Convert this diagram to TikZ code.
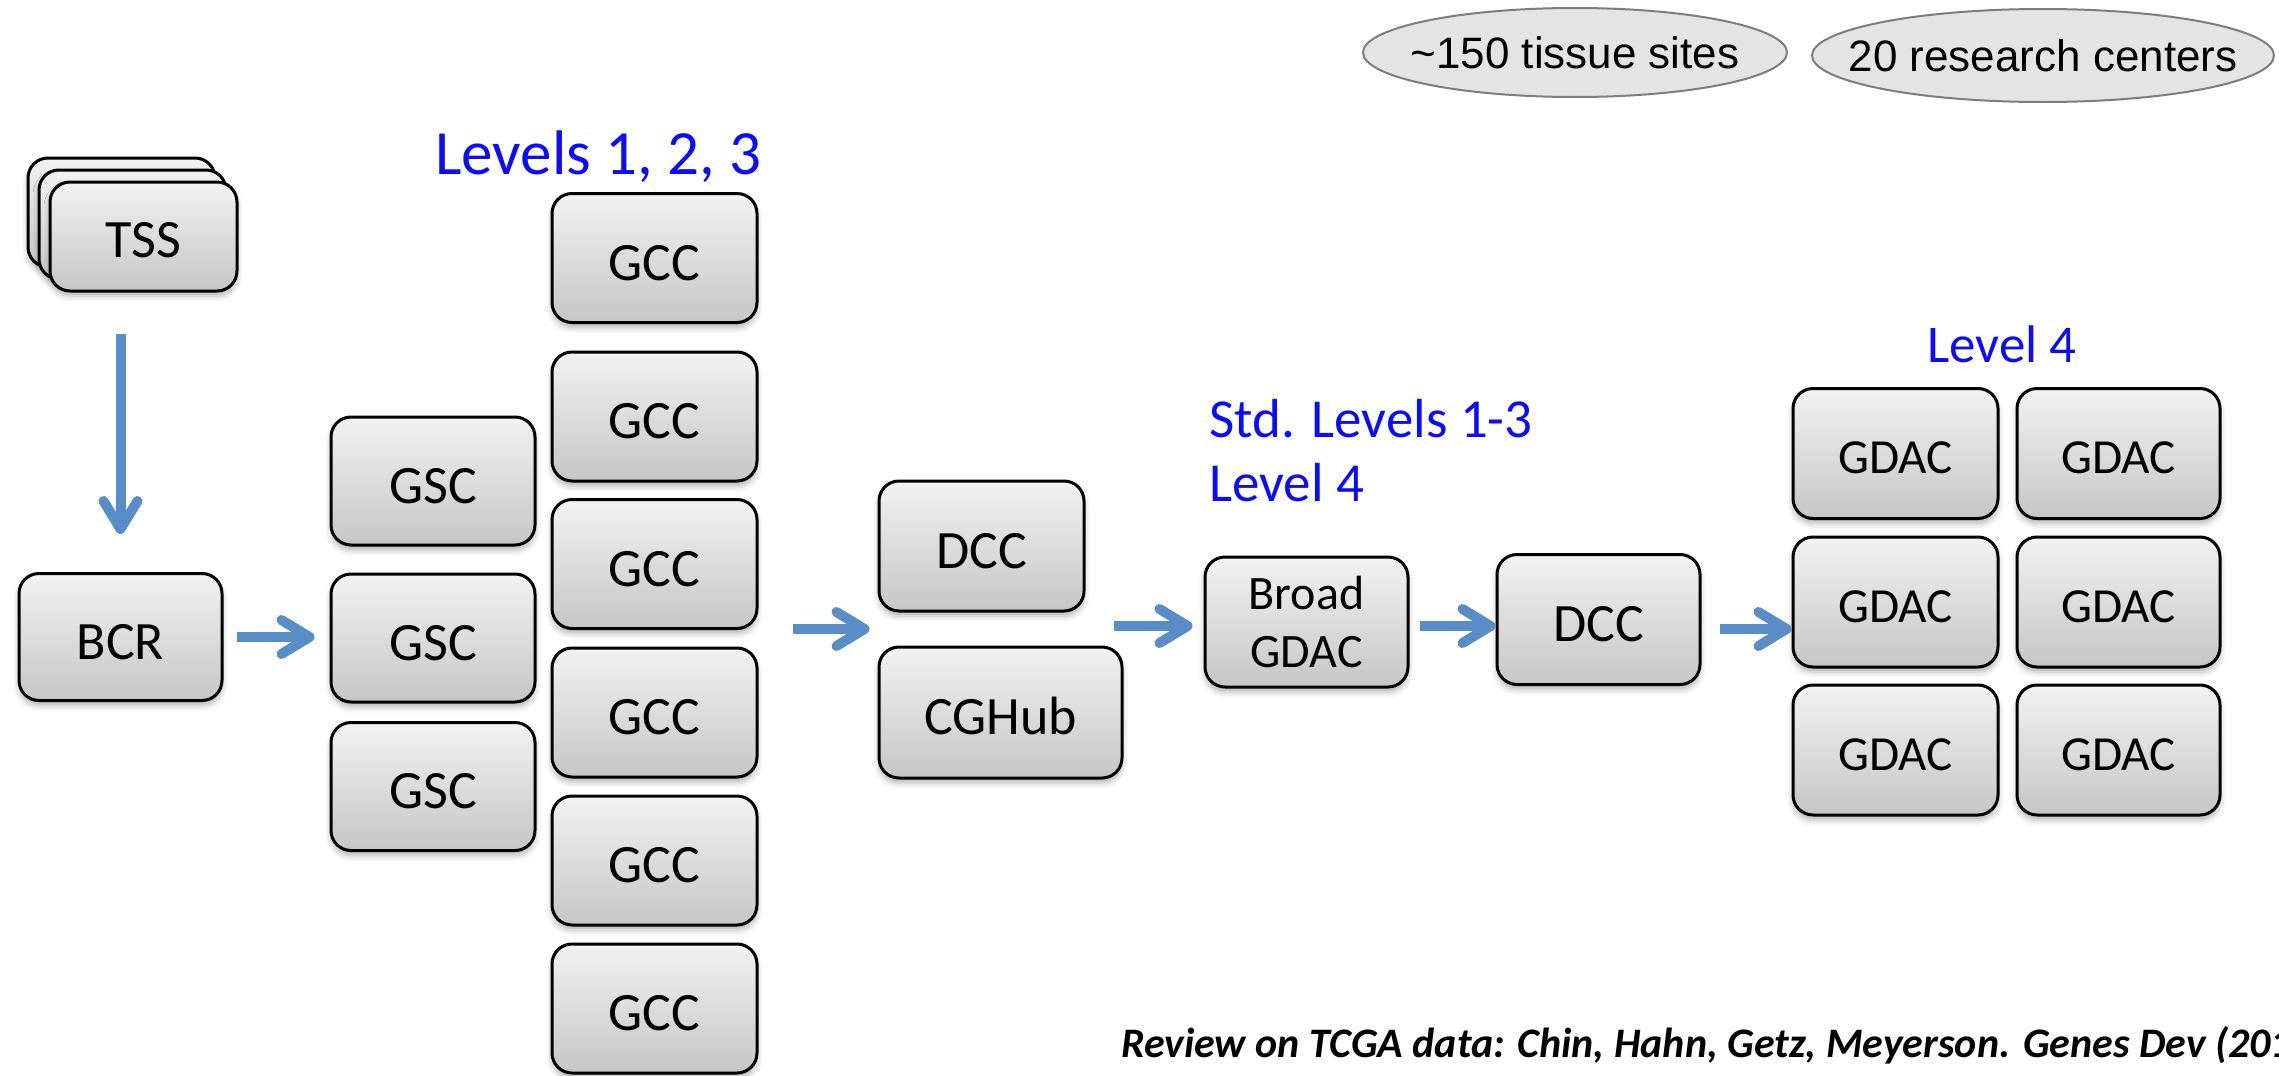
\documentclass[tikz,border=0pt]{standalone}
\usepackage{fontspec}
\setmainfont{Carlito}
\newfontfamily\ellfont{Liberation Sans}
\usetikzlibrary{arrows.meta,shadows.blur,shapes.geometric,calc}
\definecolor{arrblue}{RGB}{88,141,199}
\definecolor{lblblue}{RGB}{12,12,250}
\definecolor{boxtop}{RGB}{242,242,242}
\definecolor{boxbot}{RGB}{198,198,198}
\definecolor{ellfill}{RGB}{228,228,228}
\definecolor{ellline}{RGB}{125,125,125}
\begin{document}
\begin{tikzpicture}[x=1pt,y=-1pt,
  box/.style={draw=black, line width=3pt, rounded corners=20pt,
    top color=boxtop, bottom color=boxbot, inner sep=0pt,
    minimum width=205pt, minimum height=130pt,
    font=\fontsize{54}{58}\selectfont, text height=44pt, text depth=0pt,
    blur shadow={shadow xshift=0pt, shadow yshift=-5pt, shadow blur radius=6pt, shadow opacity=30}},
  tssbox/.style={box, minimum width=187pt, minimum height=109pt, text height=42pt},
  gdacbox/.style={box, font=\fontsize{49}{54}\selectfont, text height=40.5pt},
  arr/.style={draw=arrblue, line width=10pt, -{Straight Barb[length=28pt,width=34pt,round]}},
  lbl/.style={text=lblblue, inner sep=0pt, anchor=base west},
  ell/.style={ellipse, draw=ellline, line width=2pt, fill=ellfill, inner sep=0pt,
    font=\ellfont\fontsize{44}{48}\selectfont}
]
\useasboundingbox (0,0) rectangle (2279,1076);
\clip (0,0) rectangle (2279,1076);

% ellipses
\node[ell, minimum width=424pt, minimum height=89pt] (e1) at (1575,52.5) {\makebox[0pt]{\textasciitilde150 tissue sites}};
\node[ell, minimum width=462pt, minimum height=93pt] (e2) at (2043,55.5) {\makebox[0pt]{20 research centers}};

% TSS stack
\node[tssbox] (tssb1) at (121.5,212.5) {};
\node[tssbox] (tssb2) at (132.5,224.5) {};
\node[tssbox] (tss) at (143.5,236.5) {TSS};

% BCR
\node[box, minimum width=203pt, minimum height=127pt] (bcr) at (120.5,637) {BCR};

% GSC
\node[box, minimum width=204pt, minimum height=128pt] (gsc1) at (433,481) {GSC};
\node[box, minimum width=204pt, minimum height=128pt] (gsc2) at (433,638) {GSC};
\node[box, minimum width=204pt, minimum height=128pt] (gsc3) at (433,786.5) {GSC};

% GCC
\node[box, minimum height=129pt] (gcc1) at (654.5,258) {GCC};
\node[box, minimum height=129pt] (gcc2) at (654.5,416.5) {GCC};
\node[box, minimum height=129pt] (gcc3) at (654.5,564) {GCC};
\node[box, minimum height=129pt] (gcc4) at (654.5,712.5) {GCC};
\node[box, minimum height=129pt] (gcc5) at (654.5,860.5) {GCC};
\node[box, minimum height=129pt] (gcc6) at (654.5,1008.5) {GCC};

% DCC / CGHub
\node[box] (dcc1) at (981.5,546) {DCC};
\node[box, minimum width=243pt, minimum height=131pt] (cghub) at (1000.5,712.5) {CGHub};

% Broad GDAC, DCC
\node[box, minimum width=203pt, align=center, text height=, text depth=,
  font=\fontsize{48}{58}\selectfont] (broad) at (1306.5,622) {Broad\\GDAC};
\node[box, minimum width=203pt] (dcc2) at (1598.5,619.5) {DCC};

% GDAC grid
\node[gdacbox] (g11) at (1895.5,453.5) {GDAC};
\node[gdacbox, minimum width=203pt] (g12) at (2118.5,453.5) {GDAC};
\node[gdacbox] (g21) at (1895.5,602) {GDAC};
\node[gdacbox, minimum width=203pt] (g22) at (2118.5,602) {GDAC};
\node[gdacbox] (g31) at (1895.5,750) {GDAC};
\node[gdacbox, minimum width=203pt] (g32) at (2118.5,750) {GDAC};

% labels
\node[lbl, font=\fontsize{63}{70}\selectfont] (lv123) at (435,174) {Levels 1, 2, 3};
\node[lbl, font=\fontsize{55}{60}\selectfont] (std) at (1209,437) {Std. Levels 1-3};
\node[lbl, font=\fontsize{55}{60}\selectfont] (lv4a) at (1209,501) {Level 4};
\node[lbl, font=\fontsize{53}{60}\selectfont] (lv4b) at (1927,362) {Level 4};
\node[anchor=base west, inner sep=0pt, font=\bfseries\itshape\fontsize{42}{46}\selectfont] (cite) at (1121,1057) {Review on TCGA data: Chin, Hahn, Getz, Meyerson. Genes Dev (2011)};

% arrows
\coordinate (ya) at (0,629);
\coordinate (yb) at (0,626);
\draw[arr, shorten <=41pt, shorten >=38pt] (bcr.north |- tss.south) -- (bcr.north);
\draw[arr, shorten <=13pt, shorten >=15pt] (bcr.east) -- (gsc2.west |- bcr.east);
\draw[arr, shorten <=34pt, shorten >=8pt] (gcc3.east |- ya) -- (dcc1.west |- ya);
\draw[arr, shorten <=28pt, shorten >=11pt] (dcc1.east |- yb) -- (broad.west |- yb);
\draw[arr, shorten <=10pt] (broad.east |- yb) -- (dcc2.west |- yb);
\draw[arr, shorten <=18pt] (dcc2.east |- ya) -- (g21.west |- ya);
\end{tikzpicture}
\end{document}
